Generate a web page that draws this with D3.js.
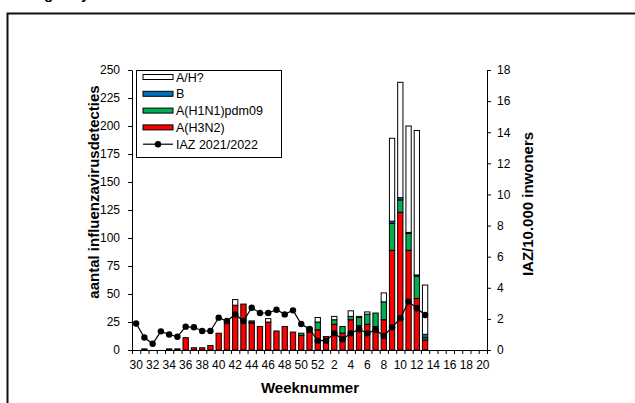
<html>
<head>
<meta charset="UTF-8">
<title>Influenza virusdetecties</title>
<style>
  body { margin: 0; background: #fff; }
  svg text { font-family: "Liberation Sans", Arial, sans-serif; fill: #000; }
</style>
</head>
<body>
<script src="https://d3js.org/d3.v7.min.js"></script>
<div id="chart"></div>
<script>
// weeks 30..52 of 2021 and 1..20 of 2022
const weeks = ["30","31","32","33","34","35","36","37","38","39","40","41","42","43","44","45","46","47","48","49","50","51","52",
               "1","2","3","4","5","6","7","8","9","10","11","12","13","14","15","16","17","18","19","20"];

// stacked virus detections per week
const h3n2 = [0,1,0,0,1,1,11,2,2,4,15,26,40,41,24,21,25,17,21,16,13,16,18,
              12,23,15,27,22,23,21,27,89,123,89,46,9,0,0,0,0,0,0,0];
const h1n1 = [0,0,0,0,0,0,0,0,0,0,0,0,0,0,0,0,0,0,0,0,2,3,7,
              0,4,6,3,7,9,12,16,24,11,15,20,2,0,0,0,0,0,0,0];
const fluB = [0,0,0,0,0,0,0,0,0,0,0,0,0,0,1,0,0,0,0,0,0,0,0,
              0,0,0,0,0,0,0,0,2,2,1,1,3,0,0,0,0,0,0,0];
const aUnk = [0,0,0,0,0,0,0,0,0,0,0,0,5,0,1,0,3,0,0,0,0,1,4,
              0,3,0,5,1,2,0,8,74,103,95,129,44,0,0,0,0,0,0,0];

// IAZ per 10.000 inwoners (season 2021/2022)
const iaz = [1.7,0.8,0.4,1.2,1.0,0.85,1.5,1.46,1.22,1.22,2.08,1.86,2.29,1.86,2.72,2.38,2.38,2.59,2.29,2.55,1.67,1.35,0.6,
             0.6,1.07,0.69,1.07,1.33,1.07,1.29,0.9,1.46,2.04,3.11,2.68,2.25,null,null,null,null,null,null,null];

const leftTicks = [0,25,50,75,100,125,150,175,200,225,250];
const rightTicks = [0,2,4,6,8,10,12,14,16,18];

const W = 635, H = 403;
const plot = {left: 132, right: 487, top: 70, bottom: 350};

const svg = d3.select("#chart").append("svg")
    .attr("width", W).attr("height", H);

// cut-off title above the frame (only descenders visible)
svg.append("text").attr("x", 44).attr("y", -1)
    .style("font-size", "15px").style("font-weight", "bold").text("g");
svg.append("text").attr("x", 81).attr("y", -1)
    .style("font-size", "15px").style("font-weight", "bold").text("y");

// outer frame (only top and left edge visible)
svg.append("path")
    .attr("d", "M7.5," + H + "V13.5H" + W)
    .attr("fill", "none").attr("stroke", "#111").attr("stroke-width", 2);

// scales
let x = d3.scaleBand()
    .domain(weeks)
    .range([plot.left, plot.right])
    .paddingInner(0.36)
    .paddingOuter(0.18);
let xEdge = d3.scaleLinear().domain([0, weeks.length]).range([plot.left, plot.right]);
let yLeft = d3.scaleLinear().domain([0, 250]).range([plot.bottom, plot.top]);
let yRight = d3.scaleLinear().domain([0, 18]).range([plot.bottom, plot.top]);

// stacked data
const keys = ["h3n2", "h1n1", "b", "ah"];
const colors = {h3n2: "#ff0000", h1n1: "#00b050", b: "#0070c0", ah: "#ffffff"};
const rows = weeks.map((w, i) => ({week: w, h3n2: h3n2[i], h1n1: h1n1[i], b: fluB[i], ah: aUnk[i]}));
const series = d3.stack().keys(keys)(rows);

const bars = svg.append("g");
series.forEach(s => {
    bars.selectAll(null)
        .data(s.filter(d => d[1] - d[0] > 0))
        .join("rect")
        .attr("x", d => x(d.data.week))
        .attr("width", x.bandwidth())
        .attr("y", d => yLeft(d[1]))
        .attr("height", d => yLeft(d[0]) - yLeft(d[1]))
        .attr("fill", colors[s.key])
        .attr("stroke", "#000")
        .attr("stroke-width", 1);
});

// axes
const fontTick = "12px";
const gL = svg.append("g")
    .attr("transform", "translate(" + plot.left + ",0)")
    .call(d3.axisLeft(yLeft).tickValues(leftTicks).tickSize(4).tickPadding(8).tickSizeOuter(0));
const gR = svg.append("g")
    .attr("transform", "translate(" + plot.right + ",0)")
    .call(d3.axisRight(yRight).tickValues(rightTicks).tickSize(4).tickPadding(6).tickSizeOuter(0));
const gB = svg.append("g")
    .attr("transform", "translate(0," + plot.bottom + ")")
    .call(d3.axisBottom(xEdge).tickValues(d3.range(weeks.length + 1)).tickSize(4).tickFormat("").tickSizeOuter(0));
const gLab = svg.append("g")
    .attr("transform", "translate(0," + plot.bottom + ")")
    .call(d3.axisBottom(x).tickSize(0).tickPadding(10).tickFormat(d => (+d % 2 === 0) ? d : ""));
gLab.select(".domain").remove();

[gL, gR, gB, gLab].forEach(g => {
    g.selectAll("text").style("font-size", fontTick).attr("font-family", null);
    g.selectAll("line, path").attr("stroke", "#000");
});

// IAZ line with markers
const pts = weeks.map((w, i) => ({week: w, v: iaz[i]})).filter(d => d.v != null);
const line = d3.line()
    .x(d => x(d.week) + x.bandwidth() / 2)
    .y(d => yRight(d.v));
svg.append("path")
    .datum(pts)
    .attr("d", line)
    .attr("fill", "none")
    .attr("stroke", "#000")
    .attr("stroke-width", 1.2);
svg.append("g").selectAll("circle")
    .data(pts)
    .join("circle")
    .attr("cx", d => x(d.week) + x.bandwidth() / 2)
    .attr("cy", d => yRight(d.v))
    .attr("r", 3.2)
    .attr("fill", "#000");

// axis titles
svg.append("text")
    .attr("transform", "translate(99,192) rotate(-90)")
    .attr("text-anchor", "middle")
    .style("font-size", "15px").style("font-weight", "bold")
    .text("aantal influenzavirusdetecties");
svg.append("text")
    .attr("transform", "translate(533,204) rotate(-90)")
    .attr("text-anchor", "middle")
    .style("font-size", "15px").style("font-weight", "bold")
    .text("IAZ/10.000 inwoners");
svg.append("text")
    .attr("x", 310).attr("y", 393)
    .attr("text-anchor", "middle")
    .style("font-size", "15px").style("font-weight", "bold")
    .text("Weeknummer");

// legend
const legendItems = [
    {label: "A/H?", type: "rect", color: colors.ah},
    {label: "B", type: "rect", color: colors.b},
    {label: "A(H1N1)pdm09", type: "rect", color: colors.h1n1},
    {label: "A(H3N2)", type: "rect", color: colors.h3n2},
    {label: "IAZ 2021/2022", type: "line"}
];
const lg = svg.append("g");
lg.append("rect")
    .attr("x", 136.5).attr("y", 70.5).attr("width", 145).attr("height", 87)
    .attr("fill", "#fff").attr("stroke", "#000").attr("stroke-width", 1);
legendItems.forEach((d, i) => {
    const cy = 77 + i * 16.8;
    if (d.type === "rect") {
        lg.append("rect")
            .attr("x", 143).attr("y", cy - 2.5).attr("width", 30).attr("height", 5)
            .attr("fill", d.color).attr("stroke", "#000").attr("stroke-width", 1);
    } else {
        lg.append("line")
            .attr("x1", 143).attr("x2", 173).attr("y1", cy).attr("y2", cy)
            .attr("stroke", "#000").attr("stroke-width", 1.2);
        lg.append("circle").attr("cx", 158).attr("cy", cy).attr("r", 3.2).attr("fill", "#000");
    }
    lg.append("text")
        .attr("x", 176).attr("y", cy + 4.5)
        .style("font-size", "12.5px")
        .text(d.label);
});
</script>
</body>
</html>
